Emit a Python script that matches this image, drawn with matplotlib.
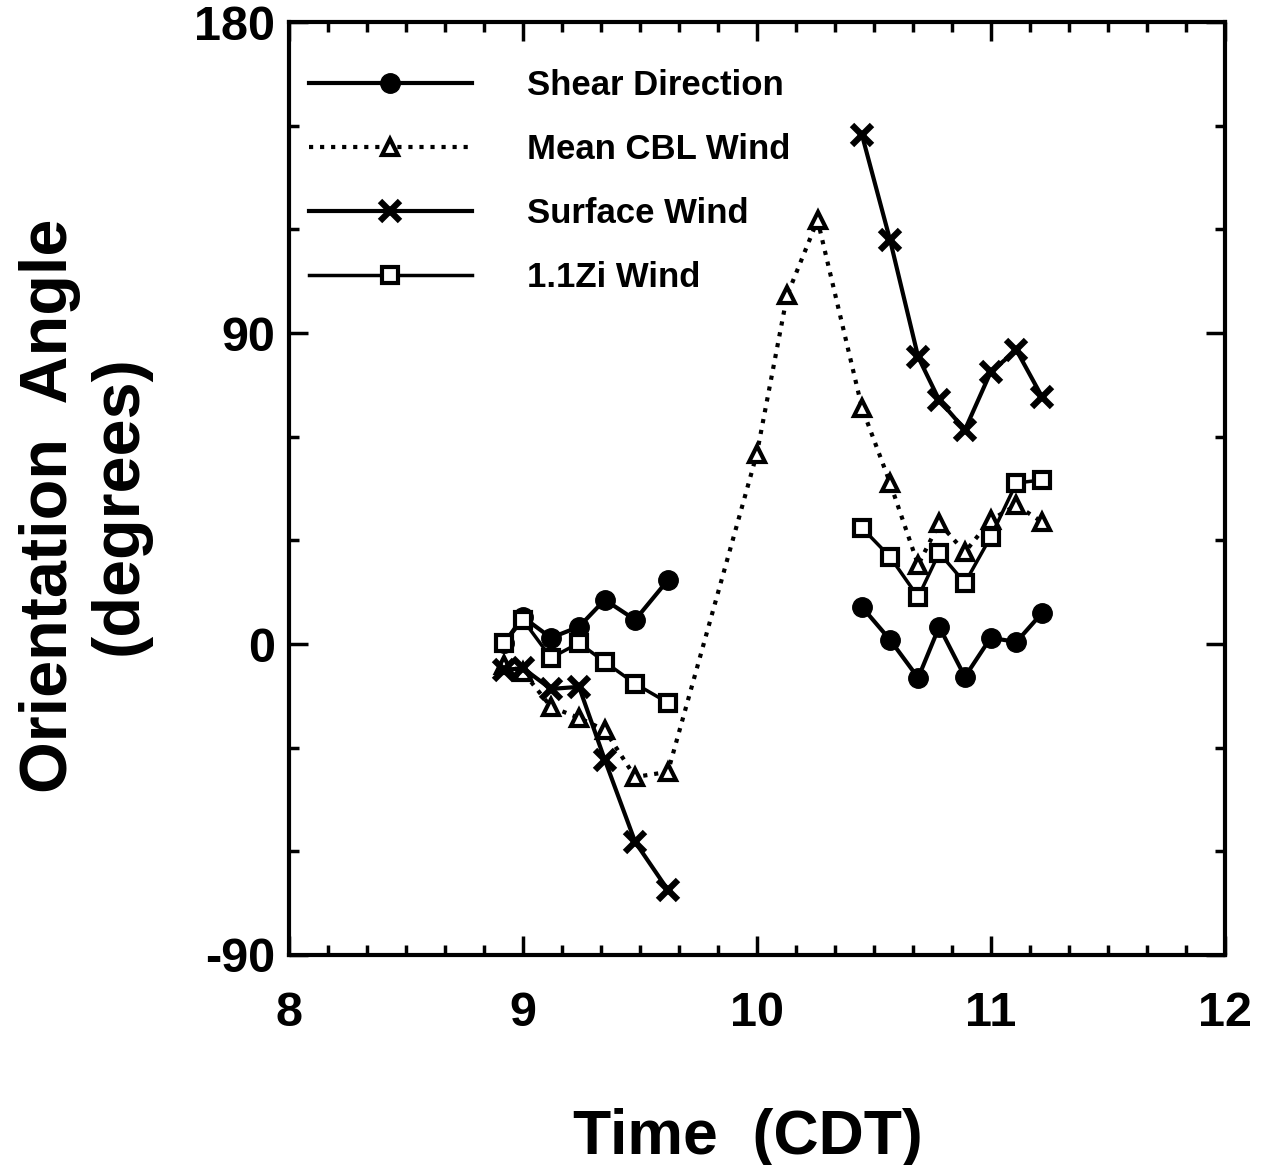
import matplotlib.pyplot as plt
import numpy as np
from matplotlib.ticker import MultipleLocator

plt.rcParams['font.family'] = 'Liberation Sans'
plt.rcParams['font.weight'] = 'bold'
plt.rcParams['axes.unicode_minus'] = False

# Data (time in hours CDT, angle in degrees); NaN = no observation
time_h = [8.92, 9.0, 9.12, 9.24, 9.35, 9.48, 9.62,
          10.0, 10.13, 10.26,
          10.45, 10.57, 10.69, 10.78, 10.89, 11.0, 11.11, 11.22]

nan = np.nan
shear_dir = [0.3, 7.8, 1.8, 5.0, 12.8, 7.0, 18.5,
             nan, nan, nan,
             10.7, 1.2, -9.8, 5.0, -9.5, 1.8, 0.6, 9.0]
mean_cbl = [-6.0, -8.0, -18.2, -21.4, -24.9, -38.5, -37.0,
            55.0, 101.0, 122.7,
            68.3, 46.6, 22.9, 35.0, 26.6, 35.9, 40.2, 35.3]
surface = [-7.5, -7.0, -13.0, -12.4, -33.5, -57.3, -71.2,
           nan, nan, nan,
           147.3, 116.9, 83.1, 70.6, 62.0, 78.7, 85.1, 71.5]
zi_wind = [0.3, 7.0, -4.0, 0.3, -5.2, -11.5, -17.0,
           nan, nan, nan,
           33.6, 25.2, 13.6, 26.4, 17.7, 31.0, 46.6, 47.5]

fig = plt.figure(figsize=(12.65, 11.65), dpi=100)
ax = fig.add_axes([0.2285, 0.1803, 0.7395, 0.8007])

ax.plot(time_h, shear_dir, '-', color='black', lw=3, marker='o', ms=14,
        label='Shear Direction')
ax.plot(time_h, mean_cbl, ':', color='black', lw=3, marker='^', ms=12,
        mfc='white', mew=3, label='Mean CBL Wind')
ax.plot(time_h, surface, '-', color='black', lw=3, marker='x', ms=15,
        mew=4.5, label='Surface Wind')
ax.plot(time_h, zi_wind, '-', color='black', lw=2.5, marker='s', ms=12,
        mfc='white', mew=3, label='1.1Zi Wind')

ax.set_xlim(8, 12)
ax.set_ylim(-90, 180)
ax.xaxis.set_major_locator(MultipleLocator(1))
ax.xaxis.set_minor_locator(MultipleLocator(1 / 6))
ax.yaxis.set_major_locator(MultipleLocator(90))
ax.yaxis.set_minor_locator(MultipleLocator(30))

for s in ax.spines.values():
    s.set_linewidth(3)

ax.tick_params(which='both', direction='in', top=True, right=True, width=2.5)
ax.tick_params(which='major', length=14)
ax.tick_params(which='minor', length=7)
ax.tick_params(axis='x', which='major', labelsize=35, pad=26)
ax.tick_params(axis='y', which='major', labelsize=35, pad=10)

ax.set_xlabel('Time  (CDT)', fontsize=45, fontweight='bold')
ax.xaxis.set_label_coords(0.491, -0.164)
ax.set_ylabel('Orientation  Angle\n(degrees)', fontsize=48, fontweight='bold',
              linespacing=1.15)
ax.yaxis.set_label_coords(-0.148, 0.482)

ax.legend(loc='upper left', bbox_to_anchor=(0.006, 0.965), frameon=False,
          numpoints=1, fontsize=25, handlelength=4.7, handletextpad=1.6,
          labelspacing=0.9, borderaxespad=0, borderpad=0.4)

plt.savefig('out.png', dpi=100, facecolor='white')
plt.close()
